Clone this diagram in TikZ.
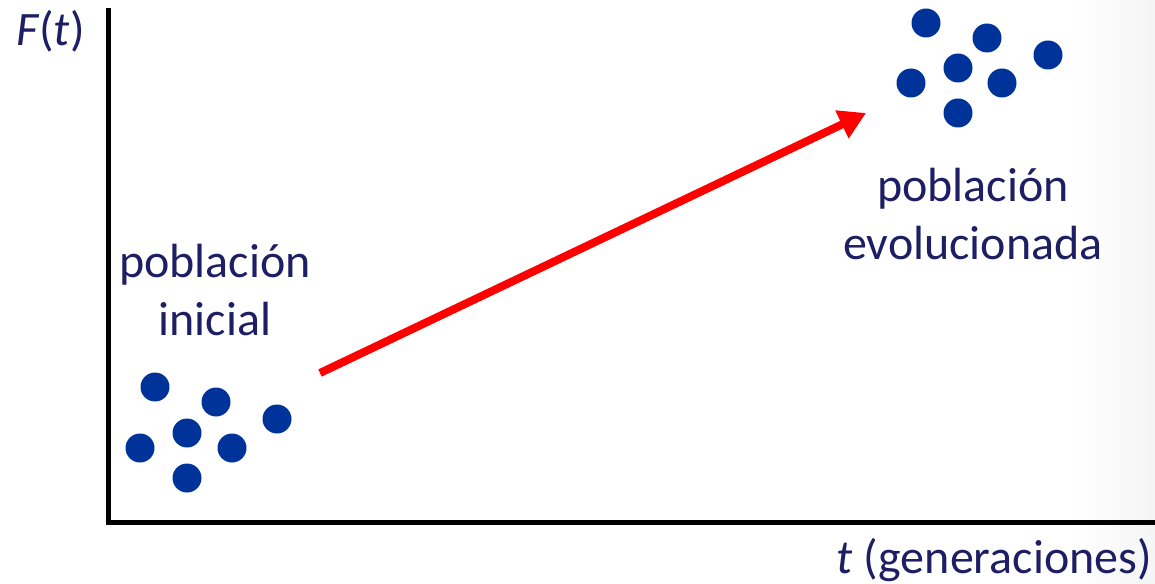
\documentclass[tikz,border=0pt]{standalone}
\usepackage{fontspec}
\setmainfont{Carlito}
\usetikzlibrary{arrows.meta}
\definecolor{txtnavy}{RGB}{30,30,100}
\definecolor{dotblue}{RGB}{0,51,153}
\definecolor{arrred}{RGB}{255,0,0}
\tikzset{
  dot/.style={circle,fill=dotblue,draw=none,minimum size=21.75pt,inner sep=0pt},
  lbl/.style={text=txtnavy,font=\fontsize{36}{43}\selectfont,inner sep=0pt,align=center},
  axisline/.style={line width=3.75pt,black,line join=miter},
  evoarrow/.style={line width=6pt,arrred,-{Triangle[length=20pt,width=22pt]}}
}
\begin{document}
\begin{tikzpicture}[x=0.75pt,y=-0.75pt]
\useasboundingbox (0,0) rectangle (1155,584);
% faint background texture at right edge
\shade[left color=white,right color=black!4,draw=none] (1075,0) rectangle (1155,584);
% axes
\coordinate (ytop) at (108,8);
\coordinate (origin) at (108,522);
\coordinate (xend) at (1155,522);
\draw[axisline] (ytop) -- (origin) -- (xend);
% axis labels
\node[lbl,anchor=base west] (flabel) at (16,46) {\textit{F}(\textit{t})};
\node[lbl,anchor=base east] (tlabel) at (1152,573) {\textit{t} (generaciones)};
% initial population
\node[dot] (l1) at (155,387) {};
\node[dot] (l2) at (216,402) {};
\node[dot] (l3) at (277,419) {};
\node[dot] (l4) at (187,433) {};
\node[dot] (l5) at (140,448) {};
\node[dot] (l6) at (232,448) {};
\node[dot] (l7) at (187,478) {};
\node[lbl] (ini) at (215,290) {población\\inicial};
% evolved population
\node[dot] (r1) at (926,23) {};
\node[dot] (r2) at (987,38) {};
\node[dot] (r3) at (1048,55) {};
\node[dot] (r4) at (958,68) {};
\node[dot] (r5) at (911,83) {};
\node[dot] (r6) at (1002,83) {};
\node[dot] (r7) at (958,113) {};
\node[lbl] (evo) at (973,214) {población\\evolucionada};
% arrow
\coordinate (a0) at (320,373);
\coordinate (a1) at (866,113);
\draw[evoarrow] (a0) -- (a1);
\end{tikzpicture}
\end{document}
